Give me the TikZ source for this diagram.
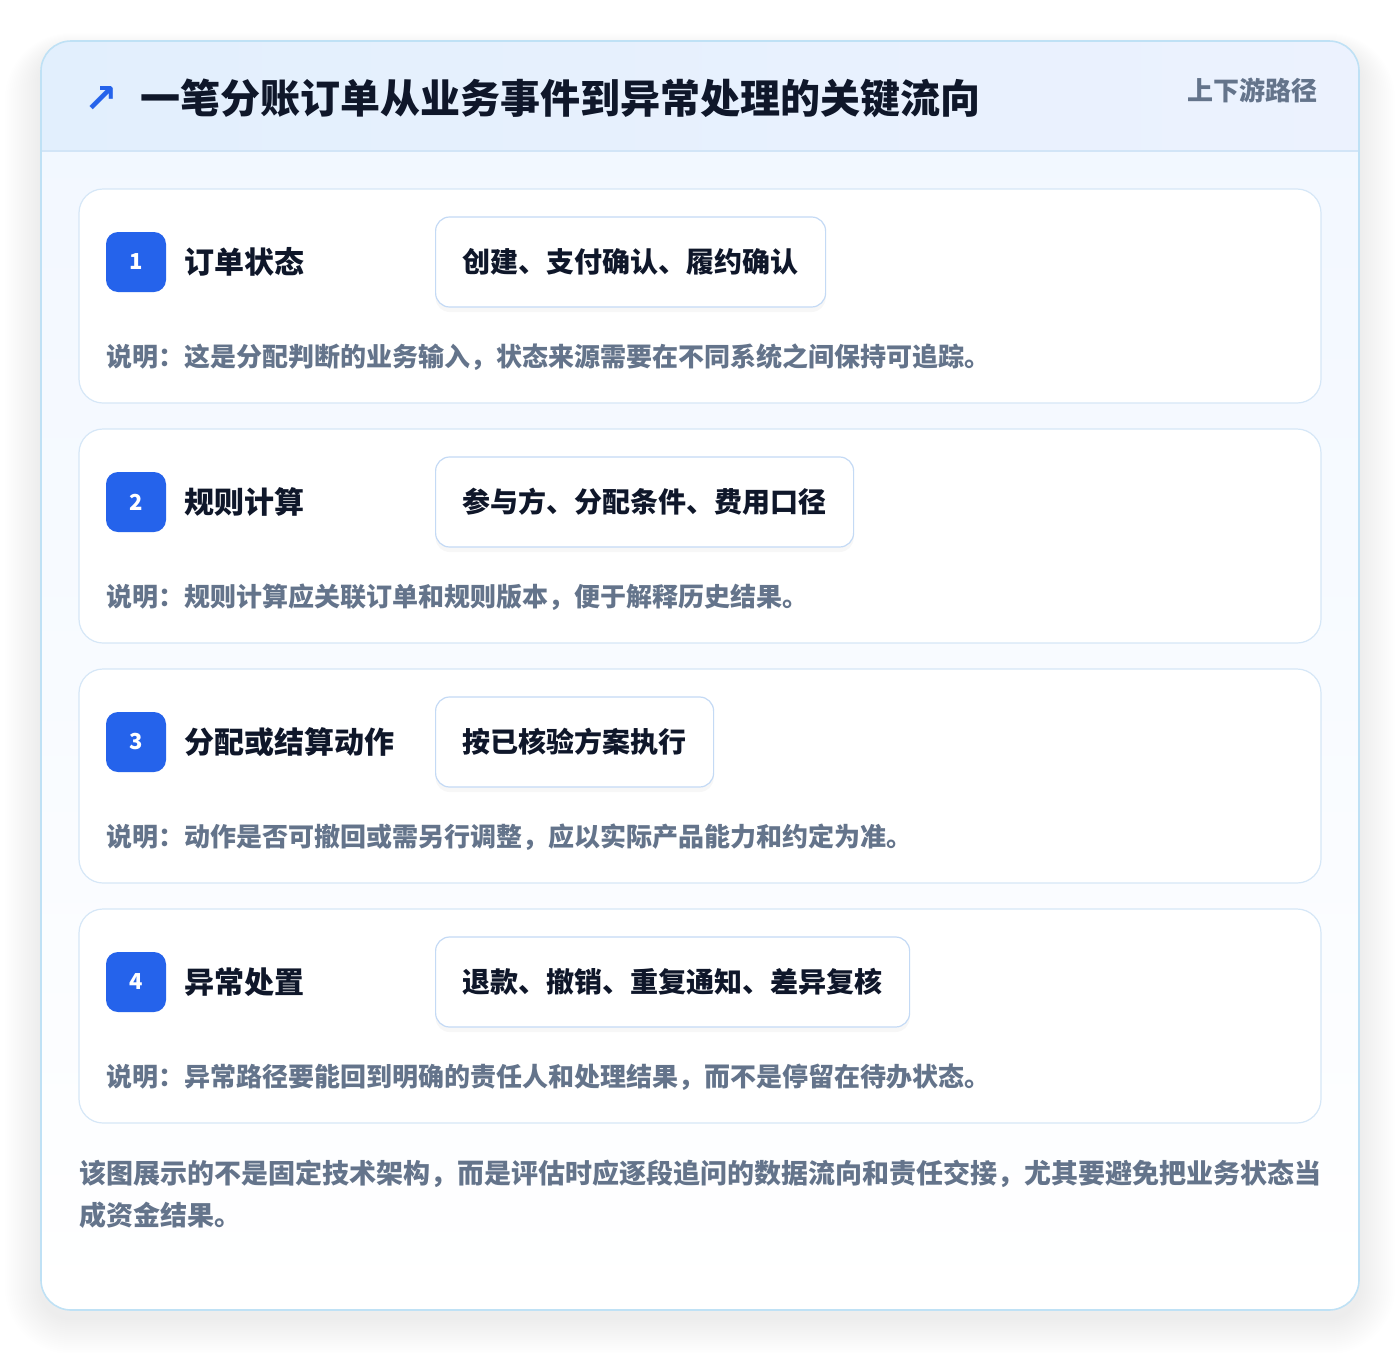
\documentclass[tikz,border=0pt]{standalone}
\usepackage{fontspec}
\setmainfont{Noto Sans CJK SC}
\newfontfamily\symfont{DejaVu Sans}
\usetikzlibrary{positioning,shadows}

\definecolor{inkdark}{RGB}{15,23,42}
\definecolor{inkgrey}{RGB}{100,116,139}
\definecolor{badgeblue}{RGB}{37,99,235}
\definecolor{outerline}{RGB}{191,225,245}
\definecolor{cardline}{RGB}{214,231,247}
\definecolor{tagline}{RGB}{196,218,245}
\definecolor{headleft}{RGB}{226,239,253}
\definecolor{headright}{RGB}{236,242,254}
\definecolor{headline}{RGB}{210,229,247}
\definecolor{bodytop}{RGB}{241,247,255}

\tikzset{
  stepcard/.style={draw=cardline,line width=1.2pt,fill=white,rounded corners=24pt},
  badge/.style={fill=badgeblue,text=white,rounded corners=12pt,minimum size=60pt,inner sep=0pt,
    font=\fontsize{22}{26}\selectfont\bfseries},
  steptitle/.style={anchor=west,inner sep=0pt,text=inkdark,font=\fontsize{30}{36}\selectfont\bfseries},
  tagbox/.style={anchor=west,draw=tagline,line width=1.2pt,fill=white,rounded corners=14pt,
    minimum height=90pt,inner xsep=27pt,text=inkdark,font=\fontsize{28}{34}\selectfont\bfseries,
    drop shadow={opacity=0.06,shadow xshift=0pt,shadow yshift=-5pt}},
  note/.style={anchor=west,inner sep=0pt,text=inkgrey,font=\fontsize{26}{30}\selectfont\bfseries}
}

\begin{document}
\begin{tikzpicture}[x=1pt,y=-1pt]
\useasboundingbox (0,0) rectangle (1400,1352);

% soft shadow under the outer card
\foreach \s in {1,...,18}
  \fill[black,opacity=0.0045,rounded corners=30pt+\s*2pt]
    (41-\s*2,41+10-\s*1) rectangle (1359+\s*2,1310+8+\s*2);

% outer card
\fill[top color=bodytop,bottom color=white,rounded corners=30pt] (41,41) rectangle (1359,1310);
\begin{scope}
  \clip[rounded corners=30pt] (41,41) rectangle (1359,1310);
  \fill[left color=headleft,right color=headright] (41,41) rectangle (1359,151);
\end{scope}
\draw[headline,line width=1.2pt] (41,151) -- (1359,151);
\draw[outerline,line width=1.6pt,rounded corners=30pt] (41,41) rectangle (1359,1310);

% header
\node[inner sep=0pt,text=badgeblue,font=\symfont\bfseries\fontsize{40}{44}\selectfont] (icon) at (101,99) {↗};
\node[anchor=west,inner sep=0pt,text=inkdark,font=\fontsize{40}{48}\selectfont\bfseries] (title) at (140,98)
  {一笔分账订单从业务事件到异常处理的关键流向};
\node[anchor=east,inner sep=0pt,text=inkgrey,font=\fontsize{26}{30}\selectfont\bfseries] (side) at (1318,90)
  {上下游路径};

% the four steps
\foreach \n/\name/\tag/\note [count=\i from 0] in {
  1/订单状态/创建、支付确认、履约确认/说明：这是分配判断的业务输入，状态来源需要在不同系统之间保持可追踪。,
  2/规则计算/参与方、分配条件、费用口径/说明：规则计算应关联订单和规则版本，便于解释历史结果。,
  3/分配或结算动作/按已核验方案执行/说明：动作是否可撤回或需另行调整，应以实际产品能力和约定为准。,
  4/异常处置/退款、撤销、重复通知、差异复核/说明：异常路径要能回到明确的责任人和处理结果，而不是停留在待办状态。}{
  \pgfmathsetmacro\top{189+240*\i}
  \draw[stepcard] (79,\top) rectangle (1321,\top+214);
  \node[badge] (badge\n) at (136,\top+73) {\n};
  \node[steptitle,right=18pt of badge\n] (name\n) {\name};
  \node[tagbox] (tag\n) at (435,\top+73) {\tag};
  \node[note] (note\n) at (106,\top+168) {\note};
}

% closing remark
\node[anchor=north west,inner sep=0pt,align=left,text=inkgrey,font=\fontsize{27}{42}\selectfont\bfseries]
  (summary) at (79,1160)
  {该图展示的不是固定技术架构，而是评估时应逐段追问的数据流向和责任交接，尤其要避免把业务状态当\\成资金结果。};
\end{tikzpicture}
\end{document}
